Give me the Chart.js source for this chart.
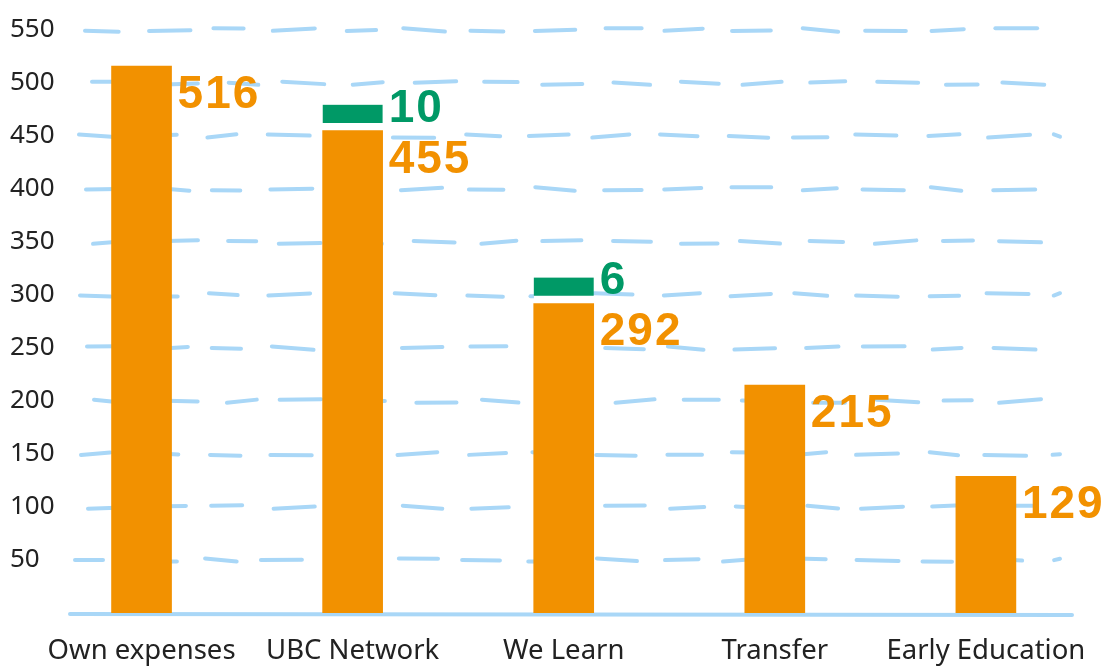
<!DOCTYPE html>
<html>
<head>
<meta charset="utf-8">
<script src="https://cdn.jsdelivr.net/npm/chart.js@4"></script>
<style>
  html, body { margin: 0; padding: 0; background: #fff; }
  #wrap { width: 1109px; height: 668px; }
</style>
</head>
<body>
<div id="wrap"><canvas id="chart"></canvas></div>
<script>
const categories = ["Own expenses", "UBC Network", "We Learn", "Transfer", "Early Education"];
const baseValues = [516, 455, 292, 215, 129];
const extraValues = [null, 10, 6, null, null];
const yTicks = [50, 100, 150, 200, 250, 300, 350, 400, 450, 500, 550];

const orange = "#f29100";
const green = "#009966";
const blue = "#a9d7f7";

// hand drawn looking dashed grid lines + axis line
const sketchGrid = {
    id: "sketchGrid",
    beforeDatasetsDraw(chart) {
        const ctx = chart.ctx, y = chart.scales.y;
        ctx.save();
        ctx.strokeStyle = blue;
        ctx.lineWidth = 4;
        ctx.lineCap = "round";
        yTicks.forEach((v, li) => {
            const py = y.getPixelForValue(v);
            let x = 75 + (li * 13) % 20;
            let i = 0;
            while (x < 1058) {
                const len = 28 + (Math.abs(Math.sin(li * 3.1 + i * 1.7)) * 14);
                const x2 = Math.min(x + len, 1060);
                const d1 = Math.sin(li * 1.3 + i * 2.1) * 1.8;
                const d2 = Math.sin(li * 2.7 + i * 1.1) * 1.8;
                ctx.beginPath();
                ctx.moveTo(x, py + d1);
                ctx.lineTo(x2, py + d2);
                ctx.stroke();
                x = x2 + 22 + Math.abs(Math.cos(li + i * 0.9)) * 10;
                i++;
            }
        });
        const by = y.getPixelForValue(0) + 1;
        ctx.beginPath();
        ctx.moveTo(70, by);
        ctx.lineTo(1072, by + 1);
        ctx.stroke();
        ctx.restore();
    }
};

const valueLabels = {
    id: "valueLabels",
    afterDatasetsDraw(chart) {
        const ctx = chart.ctx;
        ctx.save();
        ctx.font = "bold 46px 'Liberation Sans', Arial, sans-serif";
        ctx.letterSpacing = "2px";
        ctx.textAlign = "left";
        ctx.textBaseline = "alphabetic";
        chart.getDatasetMeta(0).data.forEach((bar, i) => {
            ctx.fillStyle = orange;
            ctx.fillText(String(baseValues[i]), bar.x + bar.width / 2 + 6, bar.y + 42);
        });
        chart.getDatasetMeta(1).data.forEach((bar, i) => {
            if (extraValues[i] == null) return;
            ctx.fillStyle = green;
            ctx.fillText(String(extraValues[i]), bar.x + bar.width / 2 + 6, bar.base - 9);
        });
        ctx.restore();
    }
};

new Chart(document.getElementById("chart"), {
    type: "bar",
    data: {
        labels: categories,
        datasets: [
            {
                data: baseValues,
                backgroundColor: orange,
                borderWidth: 0,
                barThickness: 60
            },
            {
                data: extraValues,
                backgroundColor: green,
                borderColor: "#ffffff",
                borderWidth: { top: 0, left: 0, right: 0, bottom: 8 },
                borderSkipped: false,
                minBarLength: 26,
                barThickness: 60
            }
        ]
    },
    options: {
        responsive: true,
        maintainAspectRatio: false,
        animation: false,
        layout: { padding: { top: 30, left: 10, right: 17, bottom: 0 } },
        plugins: { legend: { display: false }, tooltip: { enabled: false } },
        scales: {
            x: {
                stacked: true,
                grid: { display: false, drawTicks: false },
                border: { display: false },
                afterFit(s) { s.height = 55; },
                ticks: {
                    color: "#222",
                    padding: 22,
                    maxRotation: 0,
                    font: { family: "'Noto Sans', sans-serif", size: 27.5 }
                }
            },
            y: {
                stacked: true,
                min: 0,
                max: 550,
                grid: { display: false, drawTicks: false },
                border: { display: false },
                afterFit(s) { s.width = 26; },
                ticks: {
                    stepSize: 50,
                    mirror: true,
                    padding: -26,
                    color: "#222",
                    font: { family: "'Noto Sans', sans-serif", size: 26 },
                    callback: v => v === 0 ? "" : v
                }
            }
        }
    },
    plugins: [sketchGrid, valueLabels]
});
</script>
</body>
</html>
